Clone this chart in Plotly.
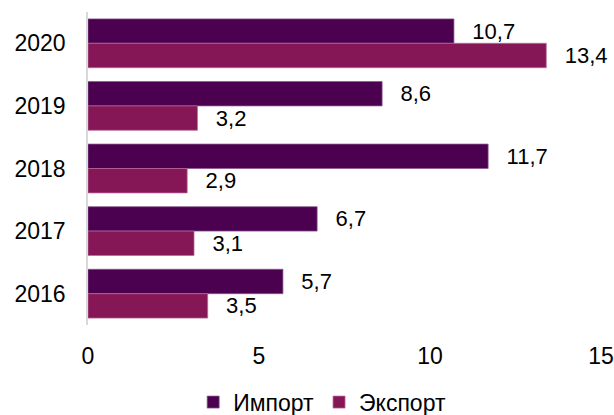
import plotly.graph_objects as go

# Data
years = ["2020", "2019", "2018", "2017", "2016"]
import_vals = [10.7, 8.6, 11.7, 6.7, 5.7]
export_vals = [13.4, 3.2, 2.9, 3.1, 3.5]
x_ticks = [0, 5, 10, 15]

IMPORT_COLOR = "#4b0050"
EXPORT_COLOR = "#861757"
TEXT_COLOR = "#000000"
FONT = "Liberation Sans, Arial, sans-serif"


def fmt(v):
    # comma decimal separator, padded away from the bar end
    return "\u2002\u2009" + f"{v:.1f}".replace(".", ",")


fig = go.Figure()

fig.add_trace(go.Bar(
    y=years, x=import_vals, name="Импорт", orientation="h",
    marker=dict(color=IMPORT_COLOR, line=dict(color="#8a5a8e", width=0.75)),
    text=[fmt(v) for v in import_vals], textposition="outside",
    textfont=dict(size=22, color=TEXT_COLOR, family=FONT),
    cliponaxis=False, constraintext="none",
))

fig.add_trace(go.Bar(
    y=years, x=export_vals, name="Экспорт", orientation="h",
    marker=dict(color=EXPORT_COLOR, line=dict(color="#b86a98", width=0.75)),
    text=[fmt(v) for v in export_vals], textposition="outside",
    textfont=dict(size=22, color=TEXT_COLOR, family=FONT),
    cliponaxis=False, constraintext="none",
))

fig.update_layout(
    width=614, height=415,
    paper_bgcolor="white", plot_bgcolor="white",
    font=dict(family=FONT, size=23, color=TEXT_COLOR),
    margin=dict(l=88, r=13, t=12, b=90, autoexpand=False),
    barmode="group", bargap=0.22, bargroupgap=0,
    showlegend=True,
    legend=dict(
        orientation="h", x=0.205, xanchor="left",
        yref="container", y=0.031, yanchor="middle",
        font=dict(size=23), itemwidth=30, tracegroupgap=0,
    ),
    xaxis=dict(
        range=[0, 15], tickvals=x_ticks, showgrid=False, zeroline=False,
        showline=False, ticklabelstandoff=15, automargin=False,
    ),
    yaxis=dict(
        autorange="reversed", showgrid=False, zeroline=False,
        showline=True, linecolor="#d9d9d9", linewidth=1.5,
        ticklabelstandoff=16, automargin=False,
    ),
)

# drop the browser's default body margin so the figure fills the window
fig.write_html(
    "out.html",
    config={"displayModeBar": False},
    post_script="document.body.style.margin='0';"
                "document.body.style.overflow='hidden';",
)
